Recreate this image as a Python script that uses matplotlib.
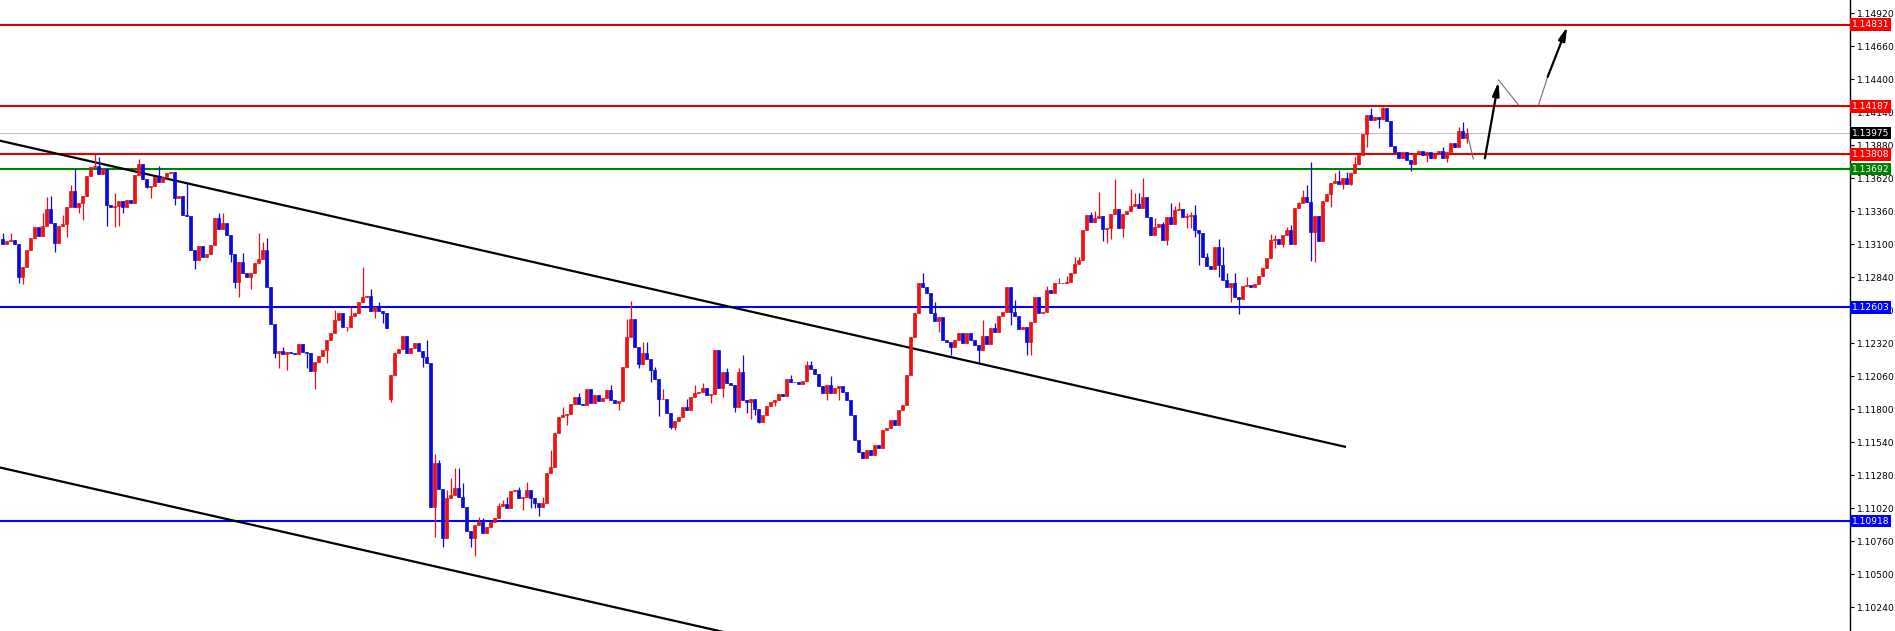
import matplotlib
matplotlib.use("Agg")
import matplotlib.pyplot as plt
import matplotlib.transforms as mtransforms
import numpy as np

# closing prices, one per candle (open = previous close)
close = [
    1.13102, 1.13128, 1.13134, 1.13102, 1.12845, 1.12923, 1.13055, 1.13147, 1.13239, 1.13165,
    1.13244, 1.13376, 1.13265, 1.13108, 1.13244, 1.13260, 1.13392, 1.13522, 1.13396, 1.13423,
    1.13481, 1.13638, 1.13707, 1.13717, 1.13654, 1.13691, 1.13410, 1.13392, 1.13402, 1.13441,
    1.13396, 1.13449, 1.13423, 1.13646, 1.13730, 1.13612, 1.13554, 1.13559, 1.13633, 1.13593,
    1.13633, 1.13664, 1.13672, 1.13462, 1.13481, 1.13331, 1.13323, 1.13055, 1.12976, 1.13087,
    1.13002, 1.13021, 1.13094, 1.13305, 1.13218, 1.13270, 1.13173, 1.13024, 1.12805, 1.12963,
    1.12871, 1.12840, 1.12871, 1.12950, 1.12982, 1.13055, 1.12766, 1.12472, 1.12246, 1.12259,
    1.12236, 1.12251, 1.12241, 1.12236, 1.12312, 1.12254, 1.12246, 1.12104, 1.12175, 1.12222,
    1.12267, 1.12346, 1.12399, 1.12503, 1.12561, 1.12446, 1.12451, 1.12535, 1.12556, 1.12648,
    1.12682, 1.12693, 1.12574, 1.12608, 1.12574, 1.12556, 1.12443, 1.12070, 1.12241, 1.12273,
    1.12377, 1.12241, 1.12280, 1.12325, 1.12262, 1.12210, 1.12167, 1.11032, 1.11374, 1.11169,
    1.10783, 1.11098, 1.11124, 1.11177, 1.11106, 1.11032, 1.10843, 1.10783, 1.10888, 1.10914,
    1.10823, 1.10870, 1.10914, 1.10946, 1.11038, 1.11054, 1.11020, 1.11158, 1.11164, 1.11098,
    1.11106, 1.11164, 1.11098, 1.11059, 1.11032, 1.11059, 1.11300, 1.11347, 1.11611, 1.11741,
    1.11755, 1.11763, 1.11842, 1.11894, 1.11842, 1.11834, 1.11957, 1.11847, 1.11912, 1.11868,
    1.11886, 1.11952, 1.11873, 1.11847, 1.11868, 1.12135, 1.12372, 1.12509, 1.12293, 1.12157,
    1.12241, 1.12194, 1.12109, 1.12036, 1.11879, 1.11883, 1.11773, 1.11663, 1.11708, 1.11739,
    1.11820, 1.11794, 1.11899, 1.11931, 1.11938, 1.11965, 1.11912, 1.11920, 1.12267, 1.11965,
    1.12096, 1.12009, 1.11991, 1.11815, 1.12096, 1.11873, 1.11860, 1.11879, 1.11800, 1.11702,
    1.11755, 1.11826, 1.11860, 1.11873, 1.11918, 1.11904, 1.12036, 1.12017, 1.12015, 1.11999,
    1.12025, 1.12149, 1.12115, 1.12076, 1.11983, 1.11931, 1.11991, 1.11931, 1.11970, 1.11983,
    1.11936, 1.11873, 1.11755, 1.11558, 1.11463, 1.11416, 1.11479, 1.11440, 1.11518, 1.11495,
    1.11637, 1.11652, 1.11715, 1.11676, 1.11794, 1.11834, 1.12070, 1.12372, 1.12556, 1.12793,
    1.12766, 1.12719, 1.12556, 1.12498, 1.12525, 1.12346, 1.12332, 1.12288, 1.12346, 1.12399,
    1.12320, 1.12403, 1.12346, 1.12306, 1.12267, 1.12377, 1.12314, 1.12438, 1.12411, 1.12535,
    1.12569, 1.12761, 1.12569, 1.12535, 1.12430, 1.12451, 1.12332, 1.12490, 1.12682, 1.12556,
    1.12569, 1.12740, 1.12714, 1.12793, 1.12797, 1.12793, 1.12803, 1.12871, 1.12945, 1.12976,
    1.13213, 1.13331, 1.13278, 1.13305, 1.13323, 1.13218, 1.13226, 1.13339, 1.13376, 1.13226,
    1.13339, 1.13365, 1.13402, 1.13418, 1.13384, 1.13475, 1.13317, 1.13173, 1.13234, 1.13260,
    1.13134, 1.13317, 1.13260, 1.13370, 1.13380, 1.13317, 1.13323, 1.13328, 1.13213, 1.13191,
    1.13002, 1.12929, 1.12903, 1.13081, 1.12937, 1.12819, 1.12761, 1.12797, 1.12682, 1.12667,
    1.12771, 1.12779, 1.12766, 1.12787, 1.12850, 1.12913, 1.12994, 1.13134, 1.13142, 1.13102,
    1.13173, 1.13213, 1.13102, 1.13384, 1.13423, 1.13475, 1.13431, 1.13199, 1.13325, 1.13126,
    1.13441, 1.13494, 1.13581, 1.13599, 1.13573, 1.13620, 1.13573, 1.13659, 1.13730, 1.13804,
    1.13967, 1.14119, 1.14079, 1.14105, 1.14087, 1.14172, 1.14072, 1.13877, 1.13830, 1.13778,
    1.13830, 1.13764, 1.13730, 1.13817, 1.13835, 1.13804, 1.13825, 1.13782, 1.13809, 1.13835,
    1.13782, 1.13825, 1.13896, 1.13869, 1.13993, 1.13940, 1.13975,
]
first_open = 1.13140
gap_idx = [97]
gap_open = [1.11879]

# wick extremes
hi_idx = [0, 2, 10, 11, 12, 15, 17, 18, 23, 24, 28, 34, 39, 46, 54, 55, 60, 64, 65, 66,
          70, 83, 87, 90, 92, 94, 106, 108, 109, 111, 112, 113, 114, 115, 119, 120, 124, 125,
          126, 129, 131, 135, 137, 140, 144, 152, 156, 157, 160, 161, 163, 165, 171, 173, 175,
          181, 184, 185, 197, 201, 202, 207, 230, 233, 245, 248, 253, 261, 264, 266, 268, 269,
          272, 273, 274, 278, 282, 283, 284, 285, 288, 290, 292, 293, 294, 296, 297, 298, 301,
          304, 305, 306, 308, 311, 317, 318, 321, 322, 324, 325, 326, 327, 333, 334, 336, 338,
          342, 345, 360, 364, 365, 366]
hi_val = [1.13187, 1.13187, 1.13344, 1.13470, 1.13481, 1.13331, 1.13567, 1.13691, 1.13809, 1.13786,
          1.13507, 1.13770, 1.13717, 1.13593, 1.13349, 1.13349, 1.13029, 1.13187, 1.13120, 1.13147,
          1.12293, 1.12582, 1.12604, 1.12923, 1.12745, 1.12648, 1.12346, 1.11447, 1.11400, 1.11164,
          1.11256, 1.11335, 1.11335, 1.11221, 1.10953, 1.10941, 1.11059, 1.11085, 1.11111, 1.11190,
          1.11229, 1.11111, 1.11479, 1.11815, 1.11931, 1.11991, 1.12509, 1.12653, 1.12332, 1.12332,
          1.12135, 1.11957, 1.11879, 1.11991, 1.12005, 1.12123, 1.12123, 1.12228, 1.12070, 1.12183,
          1.12183, 1.12062, 1.12876, 1.12648, 1.12503, 1.12477, 1.12661, 1.12771, 1.12832, 1.12850,
          1.12998, 1.12998, 1.13357, 1.13365, 1.13514, 1.13612, 1.13533, 1.13502, 1.13507, 1.13620,
          1.13305, 1.13278, 1.13423, 1.13402, 1.13436, 1.13344, 1.13357, 1.13410, 1.13029, 1.13139,
          1.13081, 1.12871, 1.12871, 1.12845, 1.13179, 1.13173, 1.13239, 1.13252, 1.13436, 1.13528,
          1.13567, 1.13751, 1.13659, 1.13685, 1.13667, 1.13790, 1.14172, 1.14182, 1.13869, 1.14027,
          1.14061, 1.14019]
lo_idx = [4, 5, 13, 16, 19, 20, 26, 28, 29, 30, 36, 37, 43, 48, 57, 58, 59, 62, 68, 69,
          71, 76, 78, 81, 86, 93, 95, 97, 105, 108, 110, 117, 118, 130, 132, 133, 134, 141, 154,
          159, 162, 164, 167, 168, 177, 180, 183, 186, 187, 188, 189, 193, 206, 209, 234, 237,
          244, 252, 256, 257, 275, 276, 277, 280, 291, 296, 297, 298, 299, 304, 307, 309, 318,
          320, 327, 328, 332, 335, 337, 341, 344, 352, 356, 361, 366]
lo_val = [1.12797, 1.12787, 1.13042, 1.13155, 1.13344, 1.13291, 1.13244, 1.13239, 1.13244, 1.13344,
          1.13541, 1.13462, 1.13410, 1.12903, 1.12963, 1.12753, 1.12687, 1.12745, 1.12202, 1.12123,
          1.12109, 1.12123, 1.11957, 1.12167, 1.12419, 1.12517, 1.12477, 1.11857, 1.12131, 1.10796,
          1.10717, 1.10712, 1.10644, 1.11006, 1.11020, 1.11020, 1.10959, 1.11676, 1.11794,
          1.12123, 1.12017, 1.11747, 1.11642, 1.11637, 1.11852, 1.11899, 1.11781, 1.11768, 1.11721,
          1.11755, 1.11689, 1.11826, 1.11873, 1.11873, 1.12411, 1.12228, 1.12162, 1.12464, 1.12228,
          1.12228, 1.13128, 1.13108, 1.13139, 1.13160, 1.13094, 1.13226, 1.13226, 1.13160, 1.12937,
          1.12845, 1.12648, 1.12551, 1.13068, 1.13081, 1.12968, 1.12963, 1.13396, 1.13536, 1.13567,
          1.13869, 1.14019, 1.13678, 1.13751, 1.13751, 1.13896]

# horizontal levels and labels
levels = [1.14831, 1.14187, 1.13808, 1.13692, 1.12603, 1.10918]
level_colors = ['#e00000', '#e00000', '#e00000', '#008000', '#0000ff', '#0000ff']
label_colors = ['#ff0000', '#ff0000', '#ff0000', '#008000', '#0000ff', '#0000ff']
last_price = 1.13975

tick_labels = ['1.14920', '1.14660', '1.14400', '1.14140', '1.13880', '1.13620', '1.13360',
               '1.13100', '1.12840', '1.12580', '1.12320', '1.12060', '1.11800', '1.11540',
               '1.11280', '1.11020', '1.10760', '1.10500', '1.10240']

# trend lines: (candle index, price) end points
upper_trend = [(-0.6, 1.13916), (335.6, 1.11505)]
lower_trend = [(-0.6, 1.11341), (181.0, 1.10040)]

# projected path after the last candle
path_thin1 = [(366.3, 1.13961), (367.7, 1.13772)]
arrow1 = [(370.6, 1.13778), (374.0, 1.14381)]
path_thin2 = [(374.0, 1.14395), (379.0, 1.14198)]
path_thin3 = [(384.0, 1.14198), (386.3, 1.14420)]
arrow2 = [(386.3, 1.14420), (391.2, 1.14815)]

RED = '#f01010'
BLUE = '#0a0ae0'

close = np.array(close)
n = len(close)
x = np.arange(n)
op = np.r_[first_open, close[:-1]]
op[gap_idx] = gap_open
hi = np.maximum(op, close)
lo = np.minimum(op, close)
hi[hi_idx] = np.maximum(hi[hi_idx], hi_val)
lo[lo_idx] = np.minimum(lo[lo_idx], lo_val)
colors = np.where(close >= op, RED, BLUE)

W, H = 1895, 631
fig = plt.figure(figsize=(W / 100, H / 100), dpi=100)
ax = fig.add_axes([0, 0, 1850 / W, 1])
ax.set_facecolor('white')

ax.set_xlim(-0.625, 461.875)
ax.set_ylim(1.10053, 1.15025)

for lv, c in zip(levels, level_colors):
    ax.axhline(lv, color=c, lw=1.5, zorder=1)
ax.axhline(last_price, color='#c0c0c0', lw=0.8, zorder=1)

for pts in (upper_trend, lower_trend):
    ax.plot([p[0] for p in pts], [p[1] for p in pts], color='black', lw=1.6, zorder=2)

ax.vlines(x, lo, hi, colors=colors, lw=0.9, zorder=3)
ax.bar(x, close - op, bottom=op, width=0.7, color=colors, edgecolor=colors,
       linewidth=0.5, zorder=4)

for pts in (path_thin1, path_thin2, path_thin3):
    ax.plot([p[0] for p in pts], [p[1] for p in pts], color='#707070', lw=0.8, zorder=5)
for pts in (arrow1, arrow2):
    ax.annotate('', xy=pts[1], xytext=pts[0],
                arrowprops=dict(arrowstyle='-|>,head_length=0.8,head_width=0.2',
                                color='black', lw=1.6, shrinkA=0, shrinkB=0), zorder=6)

# right price scale
for s in ['top', 'bottom', 'left']:
    ax.spines[s].set_visible(False)
ax.spines['right'].set_color('black')
ax.spines['right'].set_linewidth(1)
ax.set_xticks([])
ax.yaxis.tick_right()
ax.set_yticks([float(t) for t in tick_labels])
ax.set_yticklabels(tick_labels, fontsize=6.6)
ax.tick_params(axis='y', direction='out', length=3, width=0.8, pad=2, colors='black')

trans = mtransforms.blended_transform_factory(ax.transAxes, ax.transData)
boxes = list(zip(levels, label_colors)) + [(last_price, 'black')]
for lv, c in boxes:
    ax.text(1.0008, lv, '%.5f' % lv, transform=trans, fontsize=6.6, color='white',
            va='center', ha='left', zorder=10, clip_on=False,
            bbox=dict(boxstyle='square,pad=0.18', fc=c, ec='none'))

fig.savefig('out.png', dpi=100)
